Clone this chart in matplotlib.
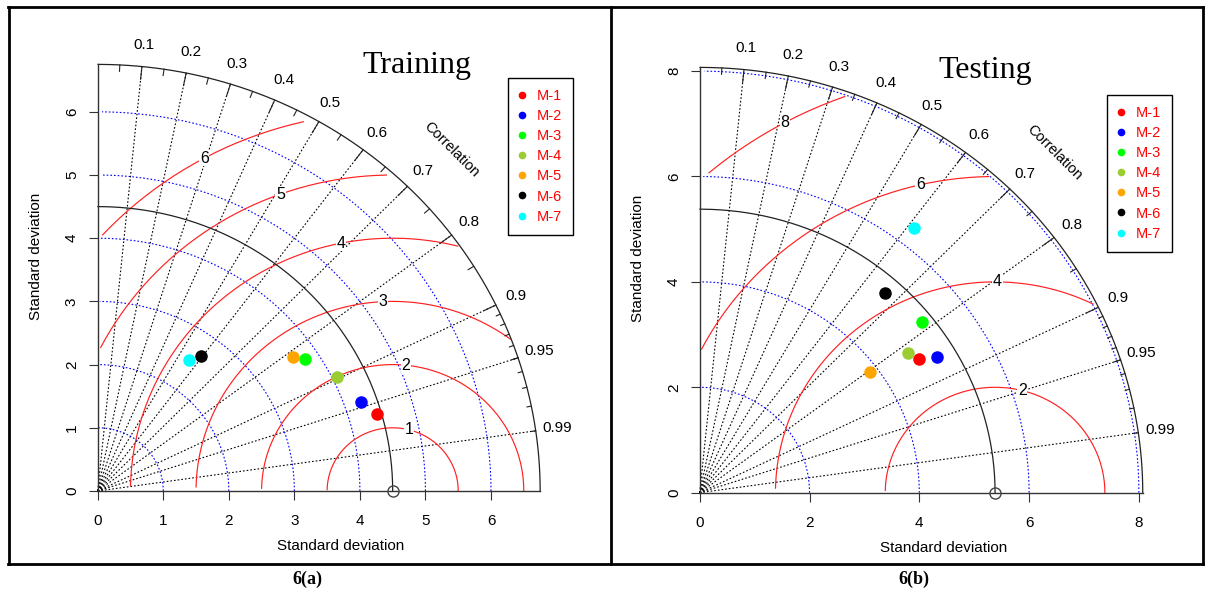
import numpy as np
import matplotlib
matplotlib.use("Agg")
import matplotlib.pyplot as plt
from matplotlib.lines import Line2D

plt.rcParams["font.family"] = ["Liberation Sans", "DejaVu Sans"]

# ---- data ----
MODELS = ["M-1", "M-2", "M-3", "M-4", "M-5", "M-6", "M-7"]
COLORS = ["#ff0000", "#0000ff", "#00ff00", "#9acd32", "#ffa500", "#000000", "#00ffff"]

TRAIN_REF_SD = 4.5
TRAIN_SD = [4.43, 4.26, 3.79, 4.07, 3.66, 2.66, 2.50]
TRAIN_CORR = [0.961, 0.944, 0.834, 0.896, 0.815, 0.595, 0.560]

TEST_REF_SD = 5.38
TEST_SD = [4.74, 5.03, 5.19, 4.63, 3.86, 5.08, 6.36]
TEST_CORR = [0.844, 0.859, 0.780, 0.819, 0.805, 0.666, 0.615]

CORR_LINES = [0.1, 0.2, 0.3, 0.4, 0.5, 0.6, 0.7, 0.8, 0.9, 0.95, 0.99]
TRAIN_RMS = [1, 2, 3, 4, 5, 6]
TEST_RMS = [2, 4, 6, 8]
TRAIN_SD_ARCS = [1, 2, 3, 4, 5, 6]
TEST_SD_ARCS = [2, 4, 6, 8]
TRAIN_TICKS = [0, 1, 2, 3, 4, 5, 6]
TEST_TICKS = [0, 2, 4, 6, 8]

W, H = 1208, 592
DOT = (0, (1.5, 1.8))


def px_axes(fig, left, bottom, width, height, **kw):
    return fig.add_axes([left / W, 1 - bottom / H, width / W, height / H], **kw)


def taylor(ax, ref_sd, sd, corr, rms, sd_arcs, ticks, title, title_xy, leg_xy):
    maxsd = 1.5 * ref_sd
    lim = 1.1 * maxsd
    ax.set_xlim(0, lim)
    ax.set_ylim(0, lim)
    ax.patch.set_visible(False)
    for s in ax.spines.values():
        s.set_visible(False)

    # correlation rays
    for c in CORR_LINES:
        ax.plot([0, maxsd * c], [0, maxsd * np.sqrt(1 - c ** 2)], color="black",
                lw=0.8, ls=DOT, clip_on=False)

    # standard deviation arcs
    th = np.arange(0, np.pi / 2, 0.03)
    for r in sd_arcs:
        ax.plot(np.cos(th) * r, np.sin(th) * r, color="blue", lw=0.8, ls=DOT, clip_on=False)

    # centred RMS difference contours
    th = np.arange(0, np.pi, 0.03)
    labpos = [int(v + 1e-9) - 1 for v in np.linspace(45, 70, len(rms))]
    for g, lp in zip(rms, labpos):
        xc = np.cos(th) * g + ref_sd
        yc = np.sin(th) * g
        neg = np.where(xc < 0)[0]
        end = neg[0] if len(neg) else len(xc)
        out = np.where(xc ** 2 + yc ** 2 > maxsd ** 2)[0]
        start = out[-1] + 1 if len(out) else 0
        ax.plot(xc[start:end], yc[start:end], color="#ff2020", lw=0.85, clip_on=False)
        if xc[lp] > 0:
            ax.text(xc[lp], yc[lp], str(g), fontsize=11.5, ha="center", va="center",
                    bbox=dict(facecolor="white", edgecolor="none", pad=0.5), zorder=3)

    # reference sd arc and outer arc
    th = np.arange(0, np.pi / 2, 0.01)
    ax.plot(np.cos(th) * ref_sd, np.sin(th) * ref_sd, color="#222222", lw=0.9, clip_on=False)
    ax.plot(np.cos(th) * maxsd, np.sin(th) * maxsd, color="#222222", lw=0.9, clip_on=False)
    ax.plot([0, maxsd], [0, 0], color="#333333", lw=1.0, clip_on=False)
    ax.plot([0, 0], [0, maxsd], color="#333333", lw=1.0, clip_on=False)

    # ticks on the correlation arc
    for vals, f in [(np.arange(0.1, 0.91, 0.1), 0.97),
                    (np.arange(0.05, 0.96, 0.1), 0.985),
                    (np.arange(0.91, 0.995, 0.01), 0.99)]:
        for ang in np.arccos(vals):
            ax.plot([np.cos(ang) * maxsd, np.cos(ang) * f * maxsd],
                    [np.sin(ang) * maxsd, np.sin(ang) * f * maxsd],
                    color="#222222", lw=0.8, clip_on=False)
    for c in CORR_LINES:
        a = np.arccos(c)
        ax.text(np.cos(a) * 1.05 * maxsd, np.sin(a) * 1.05 * maxsd, f"{c:g}",
                fontsize=11, ha="center", va="center")
    ax.text(0.8 * maxsd, 0.8 * maxsd, "Correlation", rotation=-45, fontsize=10.5,
            ha="center", va="center", rotation_mode="anchor")

    # reference point and models
    ax.plot(ref_sd, 0, "o", mfc="none", mec="#444444", mew=1.0, ms=8, clip_on=False, zorder=5)
    for s, c, col in zip(sd, corr, COLORS):
        a = np.arccos(c)
        ax.plot(s * np.cos(a), s * np.sin(a), "o", color=col, ms=8, clip_on=False, zorder=6)

    ax.set_xticks(ticks)
    ax.set_yticks(ticks)
    ax.tick_params(direction="out", length=6.5, width=0.8, color="#333333", labelsize=11)
    ax.tick_params(axis="x", pad=10)
    ax.tick_params(axis="y", labelrotation=90, pad=7)
    for lab in ax.get_yticklabels():
        lab.set_va("center")
    ax.set_xlabel("Standard deviation", fontsize=11, labelpad=8)
    ax.set_ylabel("Standard deviation", fontsize=11, labelpad=16)

    ax.text(title_xy[0], title_xy[1], title, family="Liberation Serif", fontsize=23,
            ha="center", va="baseline")

    handles = [Line2D([], [], ls="none", marker="o", color=col, ms=4.5) for col in COLORS]
    ax.legend(handles, MODELS, loc="upper left", bbox_to_anchor=(leg_xy[0] / W, 1 - leg_xy[1] / H),
              bbox_transform=ax.figure.transFigure, fontsize=10.5, labelcolor="red",
              frameon=True, fancybox=False, edgecolor="black", framealpha=1,
              borderpad=0.75, labelspacing=0.42, handlelength=0.4, handletextpad=0.8,
              borderaxespad=0)


fig = plt.figure(figsize=(W / 100, H / 100), dpi=100)

bg = fig.add_axes([0, 0, 1, 1], zorder=-1)
bg.set_xlim(0, W)
bg.set_ylim(H, 0)
bg.axis("off")
for xs, ys in [([8, 1203], [7, 7]), ([8, 1203], [564, 564]), ([8.7, 8.7], [7, 564]),
               ([611, 611], [7, 564]), ([1203, 1203], [7, 564])]:
    bg.plot(xs, ys, color="black", lw=2.0, solid_capstyle="projecting")
bg.text(307, 579, "6(a)", family="Liberation Serif", fontweight="bold", fontsize=13,
        ha="center", va="center")
bg.text(914, 579, "6(b)", family="Liberation Serif", fontweight="bold", fontsize=13,
        ha="center", va="center")

lim_a = 1.1 * 1.5 * TRAIN_REF_SD
ax1 = px_axes(fig, 97.7, 491, lim_a * 65.55, lim_a * 63.2)
taylor(ax1, TRAIN_REF_SD, TRAIN_SD, TRAIN_CORR, TRAIN_RMS, TRAIN_SD_ARCS, TRAIN_TICKS,
       "Training", (4.87, 6.61), (508, 78))

lim_b = 1.1 * 1.5 * TEST_REF_SD
ax2 = px_axes(fig, 699.7, 492.7, lim_b * 54.9, lim_b * 52.7)
taylor(ax2, TEST_REF_SD, TEST_SD, TEST_CORR, TEST_RMS, TEST_SD_ARCS, TEST_TICKS,
       "Testing", (5.21, 7.875), (1107, 95))

fig.savefig("out.png", dpi=100)
